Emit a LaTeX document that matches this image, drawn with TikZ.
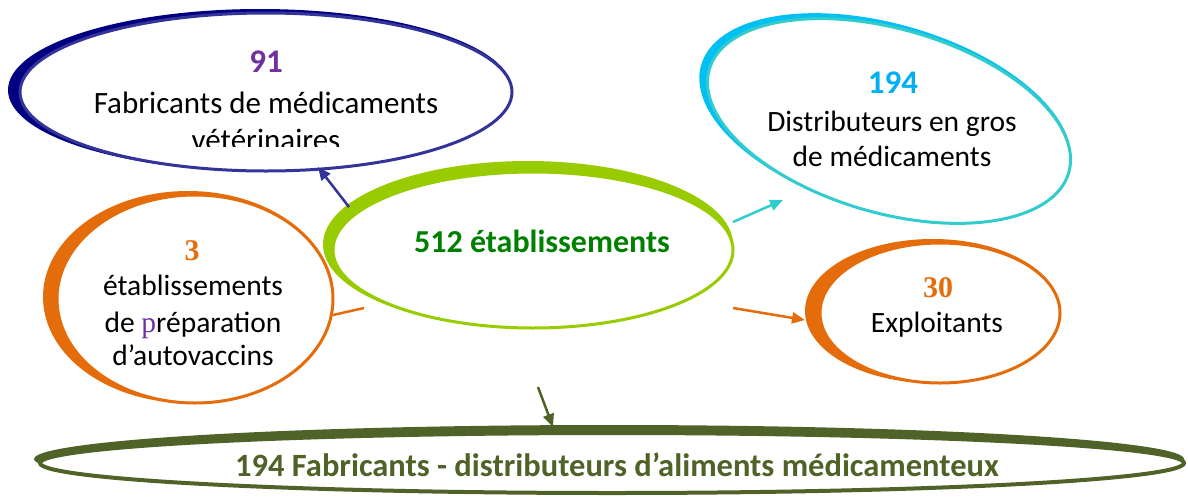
\documentclass[tikz,border=0pt]{standalone}
\usepackage{fontspec}
\setmainfont{Carlito}
\newfontfamily\timesf{Liberation Serif}
\usetikzlibrary{arrows.meta}
\definecolor{navythick}{HTML}{000080}
\definecolor{navyline}{HTML}{333399}
\definecolor{purp}{HTML}{7030A0}
\definecolor{skythick}{HTML}{00BFF3}
\definecolor{turq}{HTML}{33CCCC}
\definecolor{skytext}{HTML}{00B0F0}
\definecolor{lime}{HTML}{99CC00}
\definecolor{dkgreen}{HTML}{008000}
\definecolor{orng}{HTML}{E46C0A}
\definecolor{olive}{HTML}{4F6228}
\newcommand\ovalring[9][3]{%
  \fill[#2] ({#4-#8/2},{#5-#9/2}) ellipse ({#6+#8/2} and {#7+#9/2});
  \fill[white] (#4,#5) ellipse ({#6} and {#7});
  \draw[#3, line width=#1] (#4,#5) ellipse ({#6} and {#7});
}
\tikzset{
  txt/.style={inner sep=0pt, anchor=base, font=\fontsize{29.5}{34}\selectfont},
  bigtxt/.style={txt, font=\fontsize{31}{34}\selectfont},
  ntxt/.style={txt, font=\fontsize{33}{34}\selectfont\bfseries},
  btxt/.style={txt, font=\fontsize{32}{34}\selectfont\bfseries},
  ttxt/.style={inner sep=0pt, anchor=base, font=\fontsize{30}{34}\selectfont\timesf\bfseries},
  conn/.style={line width=2.5pt, -{Triangle[length=13pt,width=11pt]}}
}
\begin{document}
\begin{tikzpicture}[x=1pt,y=-1pt]
\useasboundingbox (0,0) rectangle (1188,498);
% ellipses
\ovalring{navythick}{navyline}{266}{92}{246}{79}{12}{4}
\begin{scope}[shift={(889,121)}, rotate=-16]
  \ovalring{skythick}{turq}{0}{0}{187}{92}{9}{4}
\end{scope}
\ovalring{orng}{orng}{195}{299}{138}{104}{14}{4}
\ovalring{orng}{orng}{940}{313}{120}{70}{15}{4}
\ovalring{lime}{lime}{533}{250}{200}{78}{10}{11}
\ovalring[4]{olive}{olive}{612}{463}{572}{30}{6}{8}
% texts
\node[ntxt, text=purp] (n91) at (266,72) {91};
\node[bigtxt] (fab1) at (266,113) {Fabricants de médicaments};
\begin{scope}
  \clip (0,0) rectangle (1188,146);
  \node[bigtxt] (fab2) at (266,150) {vétérinaires};
\end{scope}
\node[ntxt, text=skytext] (n194) at (893,93) {194};
\node[txt] (dis1) at (892,131) {Distributeurs en gros};
\node[txt] (dis2) at (892,166) {de médicaments};
\node[btxt, text=dkgreen] (n512) at (542,252) {512 établissements};
\node[ttxt, text=orng] (n3) at (192,260) {3};
\node[txt] (eta1) at (193,295) {établissements};
\node[txt] (eta2) at (193,332) {de {\timesf\color{purp}p}réparation};
\node[txt] (eta3) at (193,365) {d’autovaccins};
\node[ttxt, text=orng] (n30) at (938,297) {30};
\node[txt] (expl) at (937,332) {Exploitants};
\node[btxt, text=olive, font=\fontsize{32.5}{34}\selectfont\bfseries] (alim) at (617,476) {194 Fabricants - distributeurs d’aliments médicamenteux};
% connectors
\coordinate (bs) at (349,207); \coordinate (bt) at (318,167);
\coordinate (cs) at (733,222); \coordinate (ct) at (783,200);
\coordinate (os) at (733,308); \coordinate (ot) at (805,320);
\coordinate (ls) at (364,308); \coordinate (lt) at (333,315);
\coordinate (gs) at (538,387); \coordinate (gt) at (553,427);
\draw[conn, navyline] (bs) -- (bt);
\draw[conn, turq] (cs) -- (ct);
\draw[conn, orng] (os) -- (ot);
\draw[orng, line width=2.5pt] (ls) -- (lt);
\draw[conn, olive] (gs) -- (gt);
\end{tikzpicture}
\end{document}
